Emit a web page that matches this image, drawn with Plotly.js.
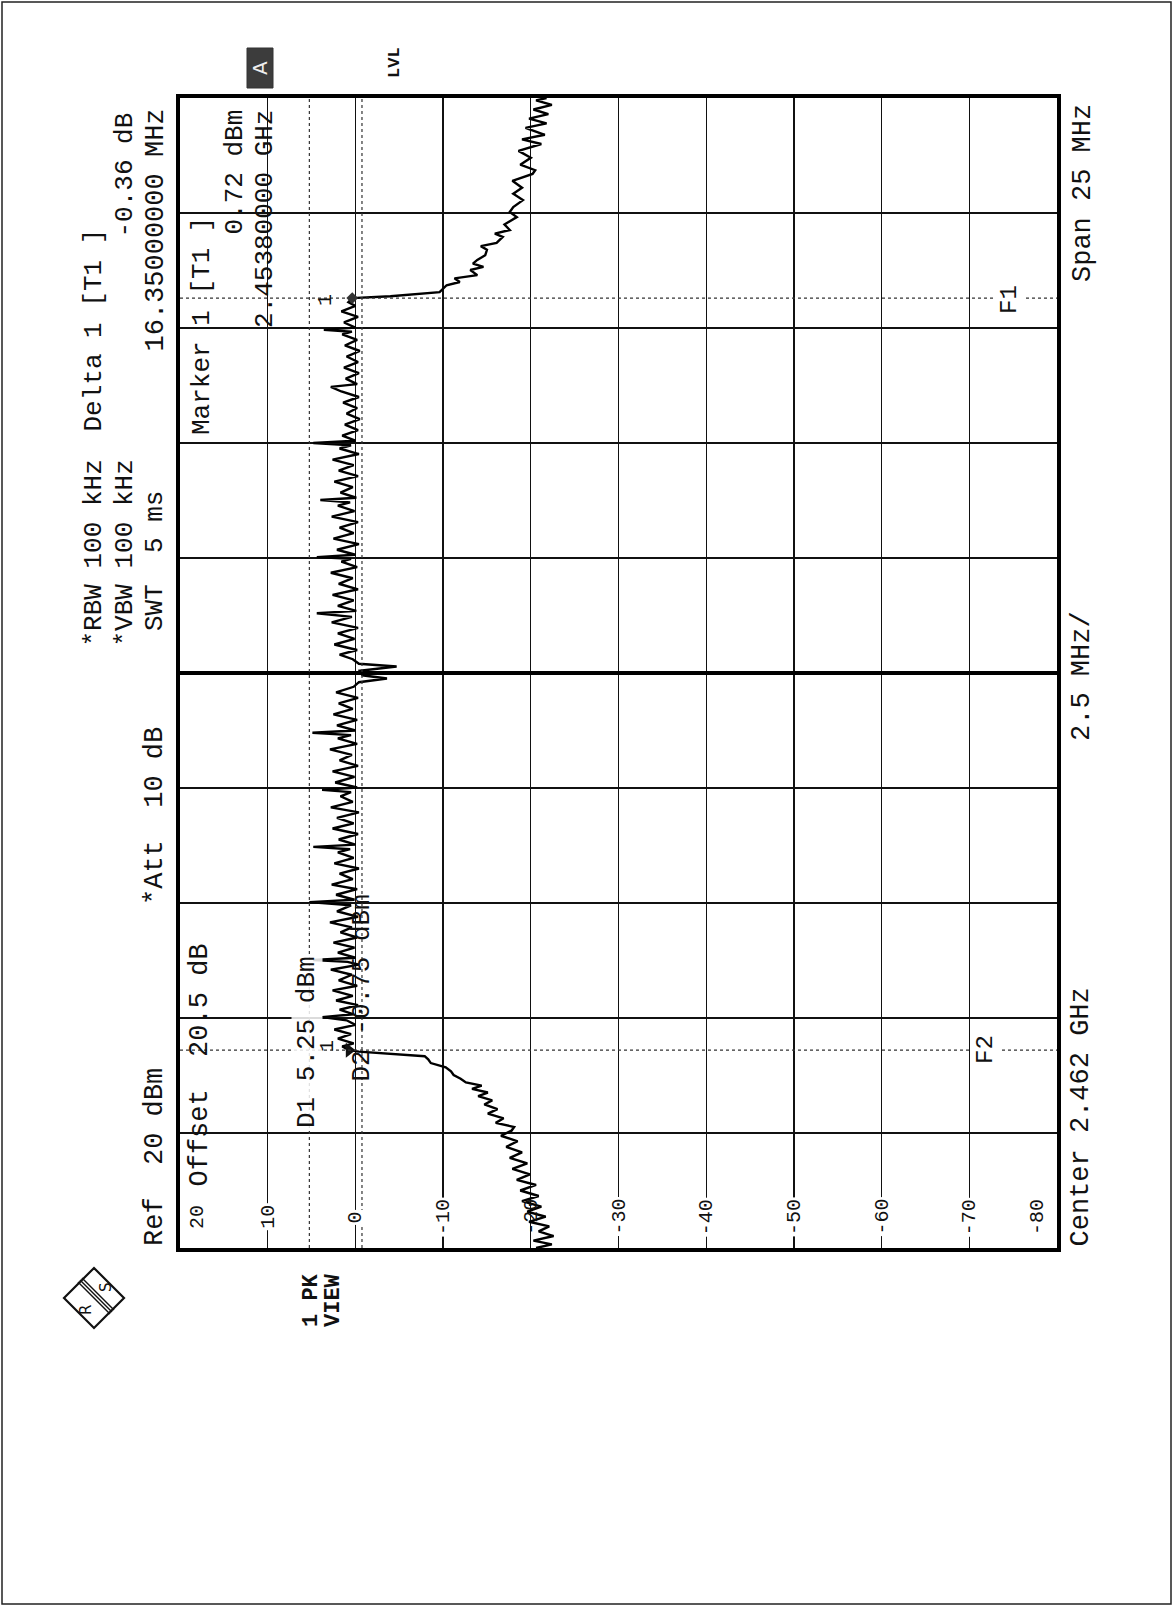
<!DOCTYPE html>
<html><head><meta charset="utf-8">
<script src="https://cdn.plot.ly/plotly-3.0.1.min.js"></script>
<style>html,body{margin:0;padding:0;background:#fff;}#chart{width:1174px;height:1607px;}</style>
</head><body><div id="chart"></div>
<script>
// ---- data ----
const CENTER_GHZ = 2.462;
const SPAN_MHZ = 25;
const REF_DBM = 20;
const BOTTOM_DBM = -80;
const ampTicks = [20, 10, 0, -10, -20, -30, -40, -50, -60, -70, -80];
const ampTickLabels = ['20', '10', '0', '-10', '-20', '-30', '-40', '-50', '-60', '-70', '-80'];
const D1_DBM = 5.25;
const D2_DBM = -0.75;
const MARKER1_GHZ = 2.4538;
const MARKER1_DBM = 0.72;
const DELTA1_MHZ = 16.35;
const DELTA1_DB = -0.36;

// trace: frequency offset from centre (MHz) and level (dBm)
const freqOffsetMHz = [
 -12.5,-12.42,-12.34,-12.24,-12.14,-12.03,-11.93,-11.82,-11.71,-11.6,-11.48,-11.37,-11.25,-11.13,-11.02,-10.9,-10.78,-10.66,-10.54,-10.42,-10.3,-10.18,-10.06,-9.95,-9.87,-9.78,-9.68,-9.58,-9.48,-9.38,-9.29,-9.2,-9.12,-9.04,-8.97,-8.9,-8.82,-8.74,-8.66,-8.57,-8.48,-8.4,-8.33,-8.27,-8.23,-8.2,
 -8.12,-8.05,-7.95,-7.85,-7.75,-7.65,-7.55,-7.48,-7.42,-7.32,-7.22,-7.12,-7.02,-6.9,-6.8,-6.68,-6.56,-6.45,-6.34,-6.28,-6.24,-6.19,-6.08,-5.97,-5.86,-5.75,-5.64,-5.53,-5.42,-5.3,-5.18,-5.05,-4.98,-4.93,-4.82,-4.7,-4.6,-4.48,-4.36,-4.25,-4.14,-4.02,-3.9,-3.83,-3.78,-3.73,-3.62,-3.5,-3.38,-3.27,-3.15,-3.03,-2.92,-2.8,-2.68,-2.59,-2.54,-2.49,-2.38,-2.26,-2.14,-2.02,-1.9,-1.78,-1.66,-1.54,-1.42,-1.35,-1.3,-1.25,-1.14,-1.02,-0.9,-0.78,-0.66,-0.54,-0.42,-0.3,-0.2,-0.12,-0.05,0.05,0.14,0.2,0.3,0.4,0.5,0.62,0.74,0.86,0.98,1.1,1.22,1.3,1.35,1.46,1.58,1.7,1.82,1.94,2.06,2.18,2.3,2.42,2.48,2.52,2.57,2.68,2.8,2.92,3.04,3.16,3.28,3.4,3.52,3.64,3.71,3.76,3.81,3.92,4.04,4.16,4.28,4.4,4.52,4.64,4.76,4.88,4.95,5.0,5.05,5.16,5.28,5.4,5.52,5.64,5.76,5.88,6.0,6.12,6.22,6.28,6.4,6.52,6.64,6.76,6.88,7.0,7.12,7.24,7.36,7.42,7.46,7.51,7.62,7.74,7.86,7.98,8.06,8.15,
 8.19,8.28,8.36,8.43,8.5,8.58,8.65,8.76,8.83,8.9,8.98,9.08,9.2,9.28,9.35,9.48,9.55,9.63,9.75,9.91,10.02,10.13,10.28,10.42,10.55,10.7,10.85,10.93,11.05,11.2,11.35,11.5,11.6,11.7,11.85,11.95,12.05,12.15,12.25,12.35,12.45,12.5
];
const levelDbm = [
 -20.6,-22.4,-20.3,-22.6,-20.9,-22.1,-19.8,-21.7,-19.6,-21.2,-19.0,-20.9,-18.8,-20.6,-18.4,-19.9,-17.9,-19.6,-17.6,-19.0,-17.2,-18.5,-16.6,-17.8,-18.1,-16.0,-16.9,-15.1,-16.2,-14.7,-15.6,-14.0,-15.1,-13.3,-14.4,-12.6,-12.0,-11.2,-10.9,-10.3,-8.6,-8.3,-7.9,-3.0,-0.4,0.72,
 1.5,0.2,2.0,0.5,2.4,0.0,1.0,3.8,0.2,1.8,-0.3,2.2,0.3,2.6,-0.2,1.9,0.4,2.8,-0.4,0.9,4.8,0.0,2.0,0.1,2.5,-0.2,1.7,0.4,2.9,-0.3,2.1,0.5,5.25,0.1,2.2,-0.2,2.7,0.3,1.8,-0.4,2.4,0.2,2.0,0.6,4.8,0.0,1.9,-0.3,2.6,0.2,2.1,-0.4,2.8,0.3,1.7,0.5,3.8,-0.2,2.3,0.1,2.6,-0.3,1.8,0.4,2.9,-0.2,2.0,0.5,4.9,0.0,2.1,-0.2,2.5,0.3,1.9,-0.3,2.2,0.2,-0.4,-3.6,-0.8,-0.5,-4.7,-0.4,0.3,1.8,-0.2,2.4,0.1,2.0,-0.3,2.7,0.4,4.4,-0.1,2.0,0.2,2.6,-0.3,1.9,0.3,2.8,-0.2,1.6,0.5,4.4,0.0,2.1,-0.4,2.5,0.2,1.8,-0.3,2.7,0.1,2.0,0.6,4.0,-0.1,1.7,0.3,2.4,-0.3,1.9,0.2,2.6,-0.4,1.8,0.5,4.8,0.0,1.5,-0.3,1.2,-0.5,1.0,-0.2,1.4,-0.4,1.6,2.8,-0.2,1.1,-0.4,1.3,-0.3,1.0,-0.5,1.2,-0.2,1.5,0.4,3.6,0.0,1.3,-0.3,1.6,0.0,0.8,0.36,
 -4.0,-9.6,-10.0,-10.4,-11.9,-11.3,-13.9,-13.1,-14.6,-13.4,-13.9,-14.8,-15.0,-14.3,-16.1,-16.8,-15.9,-17.6,-17.0,-18.4,-17.6,-18.0,-19.1,-18.0,-19.0,-17.9,-20.2,-20.5,-18.8,-20.0,-18.6,-21.2,-19.0,-21.6,-19.4,-21.8,-19.8,-22.0,-20.3,-22.4,-20.6,-21.8
];

// ---- geometry helpers (page pixels -> paper) ----
const W = 1174, H = 1607;
const L = 180, R = 1057, T = 98, B = 1248;
const px = X => (X - L) / (R - L);
const py = Y => (B - Y) / (B - T);
const NB = s => s.replace(/ /g, '\u00a0');
const MONO = 'Liberation Mono, DejaVu Sans Mono, monospace';

const marker1Off = (MARKER1_GHZ - CENTER_GHZ) * 1000;
const delta1Off = marker1Off + DELTA1_MHZ;
const delta1Lvl = MARKER1_DBM + DELTA1_DB;

const ann = [];
function rt(text, X, Y, yanchor, size, extra) {
  ann.push(Object.assign({
    text: NB(text), xref: 'paper', yref: 'paper', x: px(X), y: py(Y),
    xanchor: 'center', yanchor: yanchor, textangle: -90, showarrow: false,
    font: {family: MONO, size: size, color: '#111'}, borderpad: 0
  }, extra || {}));
}
const HF = 26;
// header
rt('*RBW 100 kHz', 93, 648, 'bottom', HF);
rt('*VBW 100 kHz', 124, 648, 'bottom', HF);
rt('SWT  5 ms', 155, 632, 'bottom', HF);
rt('Ref  20 dBm', 155, 1247, 'bottom', HF + 1);
rt('*Att  10 dB', 155, 906, 'bottom', HF + 1);
rt('Delta 1 [T1 ]', 93, 228, 'top', HF);
rt('-0.36 dB', 124, 112, 'top', HF);
rt('16.35000000 MHz', 156, 108, 'top', HF + 1);
// inside plot
rt('Marker 1 [T1 ]', 202, 216, 'top', HF);
rt(MARKER1_DBM.toFixed(2) + ' dBm', 234, 109, 'top', HF);
rt(MARKER1_GHZ.toFixed(8) + ' GHz', 265, 109, 'top', HF);
rt('Offset  20.5 dB', 199, 1188, 'bottom', HF + 1);
rt('D1 ' + D1_DBM.toFixed(2) + ' dBm', 307, 1129, 'bottom', 26, {bgcolor: 'rgba(255,255,255,0.85)'});
rt('D2 ' + D2_DBM.toFixed(2) + ' dBm', 361, 1083, 'bottom', 26);
rt('F1', 1010, 300, 'middle', 24, {bgcolor: '#fff'});
rt('F2', 985, 1050, 'middle', 24, {bgcolor: '#fff'});
rt('1', 326, 300, 'middle', 20);
rt('1', 327, 1046, 'middle', 20);
// bottom text
rt('Center ' + CENTER_GHZ.toFixed(3) + ' GHz', 1080, 1248, 'bottom', HF + 1);
rt((SPAN_MHZ / 10) + ' MHz/', 1082, 676, 'middle', HF + 1);
rt('Span ' + SPAN_MHZ + ' MHz', 1083, 103, 'top', HF + 1);
rt('<b>1 PK</b>', 311, 1328, 'bottom', 22);
rt('<b>VIEW</b>', 333, 1328, 'bottom', 22);
rt('<b>LVL</b>', 395, 63, 'middle', 17);
rt('A', 260, 68, 'middle', 20, {font: {family: 'DejaVu Sans', size: 20, color: '#eee'}});
rt('R', 86, 1310, 'middle', 15, {font: {family: 'DejaVu Sans', size: 15, color: '#111'}});
rt('S', 106, 1287, 'middle', 15, {font: {family: 'DejaVu Sans', size: 15, color: '#111'}});
// amplitude tick labels
ampTicks.forEach((v, i) => {
  const sh = v === REF_DBM ? 17 : (v === BOTTOM_DBM ? -20 : 0);
  ann.push({
    text: ampTickLabels[i], xref: 'x', yref: 'paper', x: v, xshift: sh, y: py(1217),
    xanchor: 'center', yanchor: 'middle', textangle: -90, showarrow: false,
    font: {family: MONO, size: 20, color: '#111'},
    bgcolor: (v === -20 || v === REF_DBM || v === BOTTOM_DBM) ? 'rgba(0,0,0,0)' : '#fff', borderpad: 1
  });
});

const shapes = [
  // page border
  {type: 'rect', xref: 'paper', yref: 'paper', x0: px(2), x1: px(1171), y0: py(2), y1: py(1604),
   line: {color: '#222', width: 1.5}, fillcolor: 'rgba(0,0,0,0)', layer: 'below'},
  // A box
  {type: 'rect', xref: 'paper', yref: 'paper', x0: px(247), x1: px(273), y0: py(48), y1: py(88),
   line: {color: '#333', width: 1}, fillcolor: '#3c3c3c', layer: 'below'},
  // R&S logo diamond
  {type: 'path', xref: 'paper', yref: 'paper',
   path: `M ${px(94)} ${py(1268)} L ${px(124)} ${py(1298)} L ${px(94)} ${py(1328)} L ${px(64)} ${py(1298)} Z`,
   line: {color: '#111', width: 2.2}, fillcolor: 'rgba(0,0,0,0)'},
  {type: 'line', xref: 'paper', yref: 'paper', x0: px(78), y0: py(1282), x1: px(110), y1: py(1314), line: {color: '#111', width: 1.5}},
  {type: 'line', xref: 'paper', yref: 'paper', x0: px(80), y0: py(1280), x1: px(112), y1: py(1312), line: {color: '#111', width: 1.5}},
  {type: 'line', xref: 'paper', yref: 'paper', x0: px(82), y0: py(1278), x1: px(114), y1: py(1310), line: {color: '#111', width: 1.5}},
  // display lines D1, D2
  {type: 'line', xref: 'x', yref: 'paper', x0: D1_DBM, x1: D1_DBM, y0: 0, y1: 1, line: {color: '#333', width: 1.2, dash: 'dot'}},
  {type: 'line', xref: 'x', yref: 'paper', x0: D2_DBM, x1: D2_DBM, y0: 0, y1: 1, line: {color: '#333', width: 1.2, dash: 'dot'}},
  // frequency lines F1, F2
  {type: 'line', xref: 'paper', yref: 'y', x0: 0, x1: 1, y0: delta1Off, y1: delta1Off, line: {color: '#333', width: 1.2, dash: 'dot'}},
  {type: 'line', xref: 'paper', yref: 'y', x0: 0, x1: 1, y0: marker1Off, y1: marker1Off, line: {color: '#333', width: 1.2, dash: 'dot'}}
];

const traces = [
  {x: levelDbm, y: freqOffsetMHz, type: 'scatter', mode: 'lines',
   line: {color: '#000', width: 2.4}, hoverinfo: 'skip'},
  {x: [MARKER1_DBM], y: [marker1Off], type: 'scatter', mode: 'markers',
   marker: {symbol: 'triangle-right', size: 13, color: '#111'}},
  {x: [delta1Lvl], y: [delta1Off], type: 'scatter', mode: 'markers',
   marker: {symbol: 'diamond', size: 9, color: '#333'}}
];

const layout = {
  width: W, height: H, showlegend: false,
  paper_bgcolor: '#fff', plot_bgcolor: '#fff',
  margin: {l: L, r: W - R, t: T, b: H - B, pad: 0},
  xaxis: {range: [REF_DBM, BOTTOM_DBM], tick0: 0, dtick: 10, showticklabels: false, ticks: '',
          showgrid: true, gridcolor: '#111', gridwidth: 1.3, zeroline: false,
          showline: true, mirror: true, linecolor: '#000', linewidth: 4},
  yaxis: {range: [-SPAN_MHZ / 2, SPAN_MHZ / 2], tick0: 0, dtick: SPAN_MHZ / 10, showticklabels: false, ticks: '',
          showgrid: true, gridcolor: '#111', gridwidth: 1.3, zeroline: true, zerolinecolor: '#000', zerolinewidth: 3.5,
          showline: true, mirror: true, linecolor: '#000', linewidth: 4},
  annotations: ann, shapes: shapes
};
Plotly.newPlot('chart', traces, layout, {staticPlot: true, displayModeBar: false});
</script></body></html>
